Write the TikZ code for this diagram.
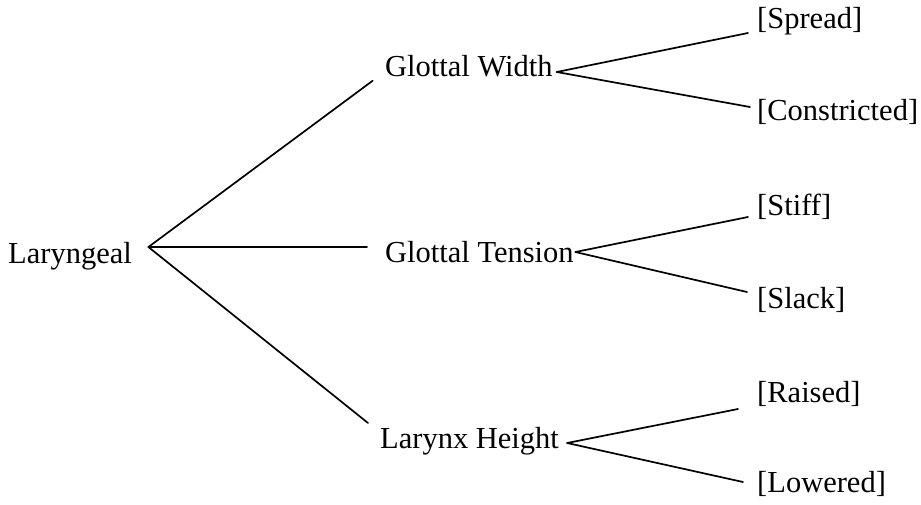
\documentclass[tikz,border=0pt]{standalone}
\usepackage{fontspec}
\setmainfont{Liberation Serif}
\begin{document}
\begin{tikzpicture}[x=1pt,y=1pt,
  lbl/.style={inner sep=0pt, anchor=base west, font=\fontsize{30.5}{36}\selectfont},
  edge/.style={line width=1.7pt, line cap=round}]
\useasboundingbox (0,0) rectangle (921,-504);
% nodes
\node[lbl] (lar) at (8,-263) {Laryngeal};
\node[lbl] (gw) at (385,-76) {Glottal Width};
\node[lbl] (gt) at (385,-262) {Glottal Tension};
\node[lbl] (lh) at (380,-448) {Larynx Height};
\node[lbl] (sp) at (757,-28) {[Spread]};
\node[lbl] (co) at (757,-120) {[Constricted]};
\node[lbl] (st) at (757,-215) {[Stiff]};
\node[lbl] (sl) at (757,-308) {[Slack]};
\node[lbl] (ra) at (757,-402) {[Raised]};
\node[lbl] (lo) at (757,-492) {[Lowered]};
% connectors
\draw[edge] ([shift={(16.4,16)}]lar.base east) -- ([shift={(-12.3,-4.7)}]gw.base west);
\draw[edge] ([shift={(16.4,16)}]lar.base east) -- ([shift={(-18,15)}]gt.base west);
\draw[edge] ([shift={(16.4,16)}]lar.base east) -- ([shift={(-12,25)}]lh.base west);
\draw[edge] ([shift={(4,4)}]gw.base east) -- ([shift={(-9,-5)}]sp.base west);
\draw[edge] ([shift={(4,4)}]gw.base east) -- ([shift={(-7,13)}]co.base west);
\draw[edge] ([shift={(1.5,10)}]gt.base east) -- ([shift={(-9,-2)}]st.base west);
\draw[edge] ([shift={(1.5,10)}]gt.base east) -- ([shift={(-10,16)}]sl.base west);
\draw[edge] ([shift={(8,5)}]lh.base east) -- ([shift={(-19,-7)}]ra.base west);
\draw[edge] ([shift={(8,5)}]lh.base east) -- ([shift={(-14,10)}]lo.base west);
\end{tikzpicture}
\end{document}
